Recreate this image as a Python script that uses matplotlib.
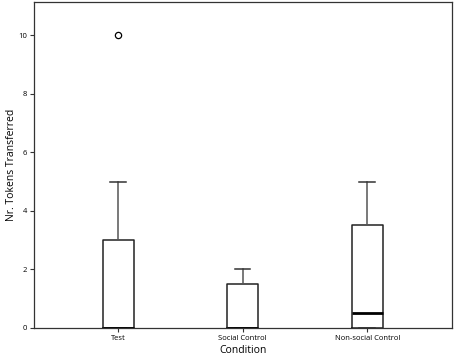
import matplotlib
matplotlib.use('Agg')
import matplotlib.pyplot as plt

conditions = ['Test', 'Social Control', 'Non-social Control']
q1 = [0, 0, 0]
medians = [0, 0, 0.5]
q3 = [3, 1.5, 3.5]
whisker_low = [0, 0, 0]
whisker_high = [5, 2, 5]
outliers = [[10], [], []]

plt.rcParams['font.family'] = ['Open Sans', 'DejaVu Sans']

stats = []
for i, name in enumerate(conditions):
    stats.append({'label': name, 'q1': q1[i], 'med': medians[i], 'q3': q3[i],
                  'whislo': whisker_low[i], 'whishi': whisker_high[i],
                  'fliers': outliers[i]})

fig = plt.figure(figsize=(4.54, 3.61), dpi=100)
ax = fig.add_axes([34 / 454, 33 / 361, 418 / 454, 326 / 361])

ax.bxp(stats, positions=[1, 2, 3], widths=0.25, patch_artist=False,
       boxprops=dict(color='#222222', linewidth=1.1),
       whiskerprops=dict(color='#555555', linewidth=1.1),
       capprops=dict(color='#333333', linewidth=1.1),
       medianprops=dict(color='black', linewidth=2),
       flierprops=dict(marker='o', markerfacecolor='none', markeredgecolor='black',
                       markersize=4.5, markeredgewidth=0.9),
       capwidths=0.125)

ax.set_xlim(0.325, 3.68)
ax.set_ylim(0, 11.13)
ax.set_yticks([0, 2, 4, 6, 8, 10])
ax.tick_params(axis='both', labelsize=5.5, length=3, width=0.8, colors='#333333',
               labelcolor='black', pad=2)
for s in ax.spines.values():
    s.set_linewidth(0.9)
    s.set_color('#333333')

ax.set_xlabel('Condition', fontsize=7.5)
ax.set_ylabel('Nr. Tokens Transferred', fontsize=7.5)
ax.xaxis.set_label_coords(0.5, -17 / 326)
ax.yaxis.set_label_coords(-17 / 418, 0.5)

fig.savefig('out.png', dpi=100)
